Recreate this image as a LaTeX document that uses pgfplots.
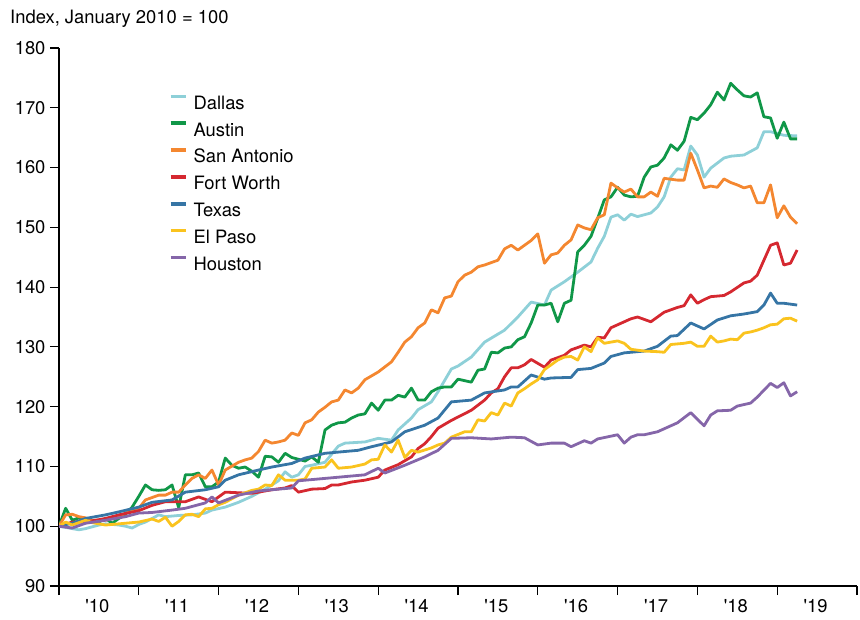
\documentclass[border=0pt]{standalone}
\usepackage{pgfplots}
\pgfplotsset{compat=1.18}
\usepackage{fontspec}
\setmainfont{TeX Gyre Heros}
\definecolor{cDallas}{RGB}{142,208,216}
\definecolor{cAustin}{RGB}{16,151,72}
\definecolor{cSanAnt}{RGB}{244,135,48}
\definecolor{cFtWorth}{RGB}{213,40,48}
\definecolor{cTexas}{RGB}{54,117,165}
\definecolor{cElPaso}{RGB}{250,195,30}
\definecolor{cHouston}{RGB}{133,102,169}
\newcommand{\chartfont}{\fontsize{18.4bp}{22bp}\selectfont}
\begin{document}
\begin{tikzpicture}
\useasboundingbox (0,0) rectangle (860bp,620bp);
\node[anchor=base west, inner sep=0pt, font=\chartfont] at (10bp,596bp) {Index, January 2010 = 100};
\begin{axis}[
  at={(59bp,34bp)}, anchor=south west,
  width=798bp, height=538bp, scale only axis,
  xmin=0, xmax=120, ymin=90, ymax=180,
  axis x line*=bottom, axis y line*=left,
  axis line style={line width=1.1bp, black},
  xtick={0,12,...,120}, xticklabels={},
  extra x ticks={6,18,...,114},
  extra x tick labels={\textquotesingle10,\textquotesingle11,\textquotesingle12,\textquotesingle13,\textquotesingle14,\textquotesingle15,\textquotesingle16,\textquotesingle17,\textquotesingle18,\textquotesingle19},
  extra x tick style={major tick length=0pt},
  ytick={90,100,...,180},
  tick align=outside, major tick length=9bp,
  tick style={line width=1.1bp, black},
  /pgf/number format/assume math mode=true,
  tick label style={font=\chartfont},
  xticklabel style={yshift=-10bp, xshift=-1.5bp},
  yticklabel style={xshift=-1bp},
  every axis plot/.append style={line width=2.8bp, line join=round},
  legend image code/.code={\draw[#1, line width=3.5bp] (0bp,6.3bp) -- (15.5bp,6.3bp); \path (21.5bp,0bp);},
  legend cell align=left,
  legend style={draw=none, fill=none, inner sep=0pt, at={(0.1375,0.9137)}, anchor=north west,
    font=\chartfont, row sep=12.2bp, column sep=0pt,
    nodes={inner sep=0pt, text height=13.2bp, text depth=0bp}},
]
% Dallas
\addplot[color=cDallas] coordinates {
(0,100) (1,99.8) (2,99.6) (3,99.4) (4,99.6) (5,99.9) (6,100.2) (7,100.4) (9,100.2) (10,100.0) (11,99.7) (12,100.3) (13,100.7) (14,101.3) (15,101.9) (16,101.6) (18,101.8) (20,101.9) (22,102.2) (23,102.7) (25,103.2) (27,104.0) (29,105.0) (31,106.2) (33,107.6) (34,109.1) (35,108.2) (36,108.6) (37,110.0) (38,110.2) (40,110.7) (42,113.4) (43,113.9) (46,114.1) (48,114.7) (50,114.4) (51,116.1) (53,118.1) (54,119.5) (56,120.8) (57,122.5) (59,126.3) (60,126.8) (62,128.3) (64,130.8) (67,132.8) (69,135.0) (71,137.5) (73,137.0) (74,139.5) (76,140.9) (78,142.5) (80,144.2) (81,146.5) (82,148.5) (83,151.7) (84,152.1) (85,151.2) (86,152.2) (87,151.8) (89,152.4) (90,153.4) (91,155.1) (92,158.4) (93,159.8) (94,159.6) (95,163.6) (96,162.1) (97,158.4) (98,159.9) (100,161.6) (101,161.9) (103,162.1) (105,163.3) (106,166.0) (107,166.0) (109,165.4) (111,165.3)
};
\addlegendentry{Dallas}
% Austin
\addplot[color=cAustin] coordinates {
(0,100) (1,103.0) (2,101.0) (3,101.4) (4,101.0) (6,100.7) (7,101.3) (8,100.5) (9,101.3) (10,102.0) (11,103.2) (12,105.0) (13,106.9) (14,106.1) (15,106.0) (16,106.1) (17,106.9) (18,103.1) (19,108.6) (20,108.6) (21,108.9) (22,106.6) (23,106.6) (24,107.4) (25,111.4) (26,110.2) (27,109.7) (28,109.9) (29,109.2) (30,108.2) (31,111.7) (32,111.6) (33,110.7) (34,112.2) (35,111.5) (36,111.2) (37,110.9) (38,111.6) (39,110.7) (40,116.1) (41,116.9) (42,117.3) (43,117.4) (44,118.1) (45,118.6) (46,118.8) (47,120.6) (48,119.4) (49,121.1) (50,121.1) (51,121.9) (52,121.6) (53,123.1) (54,121.1) (55,121.1) (56,122.5) (57,123.1) (58,123.3) (59,123.3) (60,124.6) (62,124.1) (63,126.1) (64,126.3) (65,129.1) (66,129.0) (67,129.8) (68,130.0) (69,131.2) (70,131.7) (71,134.0) (72,137.0) (73,137.0) (74,137.3) (75,134.2) (76,137.3) (77,137.8) (78,145.9) (79,147.0) (80,148.5) (81,151.5) (82,154.6) (83,155.1) (84,156.7) (85,155.4) (86,155.1) (87,155.2) (88,158.4) (89,160.1) (90,160.4) (91,161.6) (92,163.8) (93,162.9) (94,164.4) (95,168.4) (96,168.0) (97,169.1) (98,170.5) (99,172.6) (100,171.3) (101,174.1) (102,173.0) (103,172.0) (104,171.8) (105,172.5) (106,168.5) (107,168.3) (108,164.9) (109,167.6) (110,164.8) (111,164.8)
};
\addlegendentry{Austin}
% San Antonio
\addplot[color=cSanAnt] coordinates {
(0,100) (1,101.9) (2,102.0) (3,101.6) (4,101.4) (5,101.0) (7,101.0) (9,101.6) (10,102.2) (12,103.0) (13,104.4) (15,105.2) (16,105.2) (17,105.7) (18,105.7) (19,106.9) (20,108.0) (21,108.6) (22,108.0) (23,109.4) (24,106.9) (25,109.4) (27,110.7) (28,111.1) (29,111.4) (30,112.5) (31,114.4) (32,113.9) (33,114.1) (34,114.4) (35,115.6) (36,115.2) (37,117.3) (38,117.8) (39,119.1) (40,119.9) (41,120.8) (42,121.1) (43,122.8) (44,122.3) (45,123.1) (46,124.5) (48,125.8) (50,127.5) (51,129.1) (52,130.8) (53,131.7) (54,133.2) (55,134.0) (56,136.2) (57,135.7) (58,138.2) (59,138.5) (60,140.9) (61,142.0) (62,142.5) (63,143.4) (64,143.7) (66,144.5) (67,146.4) (68,147.0) (69,146.2) (70,147.0) (71,147.8) (72,148.9) (73,144.0) (74,145.4) (75,145.7) (76,147.0) (77,147.9) (78,150.4) (79,149.9) (80,149.6) (81,151.6) (82,152.1) (83,157.4) (84,156.6) (85,155.9) (86,156.4) (87,155.1) (88,155.1) (89,155.9) (90,155.2) (91,158.2) (93,157.9) (94,157.9) (95,162.4) (96,159.6) (97,156.6) (98,156.9) (99,156.7) (100,158.1) (101,157.5) (102,157.1) (103,156.6) (104,156.9) (105,154.1) (106,154.1) (107,157.1) (108,151.6) (109,153.6) (110,151.7) (111,150.6)
};
\addlegendentry{San Antonio}
% Fort Worth
\addplot[color=cFtWorth] coordinates {
(0,100) (2,100.7) (4,100.7) (7,101.3) (9,101.9) (12,102.6) (14,103.5) (16,104.1) (19,104.1) (21,104.9) (23,104.1) (25,105.7) (27,105.6) (29,105.5) (32,106.1) (34,106.4) (35,106.8) (36,105.7) (38,106.2) (40,106.3) (41,106.9) (42,106.9) (44,107.4) (46,107.7) (48,108.2) (49,109.4) (51,110.3) (53,111.6) (54,113.0) (55,113.8) (56,115.0) (57,116.4) (59,117.7) (62,119.4) (64,121.1) (65,122.3) (66,123.0) (67,125.0) (68,126.5) (69,126.5) (70,127.0) (71,127.9) (73,126.6) (74,127.8) (76,128.6) (77,129.5) (79,130.3) (80,130.0) (81,131.6) (82,131.5) (83,133.2) (84,133.7) (86,134.7) (87,135.0) (89,134.2) (91,135.8) (93,136.6) (94,136.9) (95,138.7) (96,137.3) (97,137.9) (98,138.4) (100,138.6) (101,139.2) (103,140.7) (104,141.0) (105,142.0) (106,144.5) (107,147.0) (108,147.4) (109,143.7) (110,144.0) (111,146.2)
};
\addlegendentry{Fort Worth}
% Texas
\addplot[color=cTexas] coordinates {
(0,100) (2,100.5) (4,101.3) (7,101.9) (9,102.4) (12,103.2) (14,104.0) (17,104.4) (19,105.7) (22,106.1) (24,106.6) (25,107.7) (27,108.6) (30,109.4) (32,109.9) (35,110.5) (37,111.4) (40,112.2) (42,112.4) (45,112.7) (47,113.3) (50,114.1) (52,115.8) (55,116.9) (57,118.1) (59,120.8) (62,121.1) (64,122.3) (67,122.8) (68,123.3) (69,123.3) (71,125.3) (73,124.6) (74,124.8) (77,124.9) (78,126.2) (80,126.4) (82,127.3) (83,128.4) (85,129.0) (88,129.3) (90,130.1) (92,131.8) (93,131.9) (95,134.0) (97,133.0) (99,134.5) (101,135.2) (103,135.5) (105,135.9) (106,137.0) (107,139.0) (108,137.3) (109,137.3) (111,137.0)
};
\addlegendentry{Texas}
% El Paso
\addplot[color=cElPaso] coordinates {
(0,100) (1,100.7) (2,100.2) (4,101.0) (5,100.6) (7,100.2) (9,100.4) (10,100.5) (12,100.7) (14,101.2) (15,100.8) (16,101.5) (17,100.0) (18,100.8) (19,101.9) (20,102.0) (21,101.6) (22,102.9) (23,103.0) (24,103.6) (25,104.0) (27,105.2) (29,106.0) (30,106.2) (31,106.9) (32,106.8) (33,108.6) (34,107.7) (36,107.7) (37,107.9) (38,109.7) (40,109.9) (41,111.1) (42,109.7) (44,109.9) (46,110.4) (47,111.1) (48,111.2) (49,113.6) (50,112.4) (51,114.4) (52,111.5) (53,112.7) (54,112.4) (56,113.1) (57,113.6) (58,113.9) (59,114.9) (61,115.8) (62,115.8) (63,117.8) (64,117.6) (65,119.0) (66,118.6) (67,120.6) (68,120.1) (69,122.3) (70,123.0) (71,123.8) (72,124.5) (73,126.2) (74,127.0) (75,127.8) (76,128.3) (77,128.4) (78,127.8) (79,130.0) (80,129.2) (81,131.5) (82,130.6) (83,130.8) (84,131.0) (85,130.6) (86,129.6) (88,129.3) (90,129.2) (91,129.1) (92,130.4) (94,130.6) (95,130.8) (96,130.1) (97,130.1) (98,131.8) (99,130.8) (100,131.0) (101,131.3) (102,131.2) (103,132.3) (104,132.5) (105,132.8) (106,133.2) (107,133.7) (108,133.8) (109,134.7) (110,134.8) (111,134.3)
};
\addlegendentry{El Paso}
% Houston
\addplot[color=cHouston] coordinates {
(0,100) (2,99.7) (4,100.5) (7,101.0) (10,101.6) (12,102.2) (14,102.3) (17,102.7) (19,103.0) (22,103.9) (23,104.9) (24,103.9) (27,105.2) (30,105.9) (32,106.1) (35,106.4) (36,107.6) (39,107.9) (42,108.2) (46,108.6) (48,109.7) (49,108.9) (52,110.2) (55,111.6) (57,112.7) (59,114.7) (62,114.8) (65,114.6) (68,114.9) (70,114.8) (72,113.6) (74,113.9) (76,113.9) (77,113.3) (79,114.3) (80,113.9) (81,114.6) (84,115.3) (85,113.9) (86,114.9) (87,115.3) (88,115.3) (90,115.8) (92,116.8) (93,117.3) (95,119.0) (97,116.8) (98,118.6) (99,119.3) (101,119.4) (102,120.1) (104,120.6) (105,121.6) (107,123.9) (108,123.2) (109,124.0) (110,121.8) (111,122.5)
};
\addlegendentry{Houston}
\end{axis}
\end{tikzpicture}
\end{document}
